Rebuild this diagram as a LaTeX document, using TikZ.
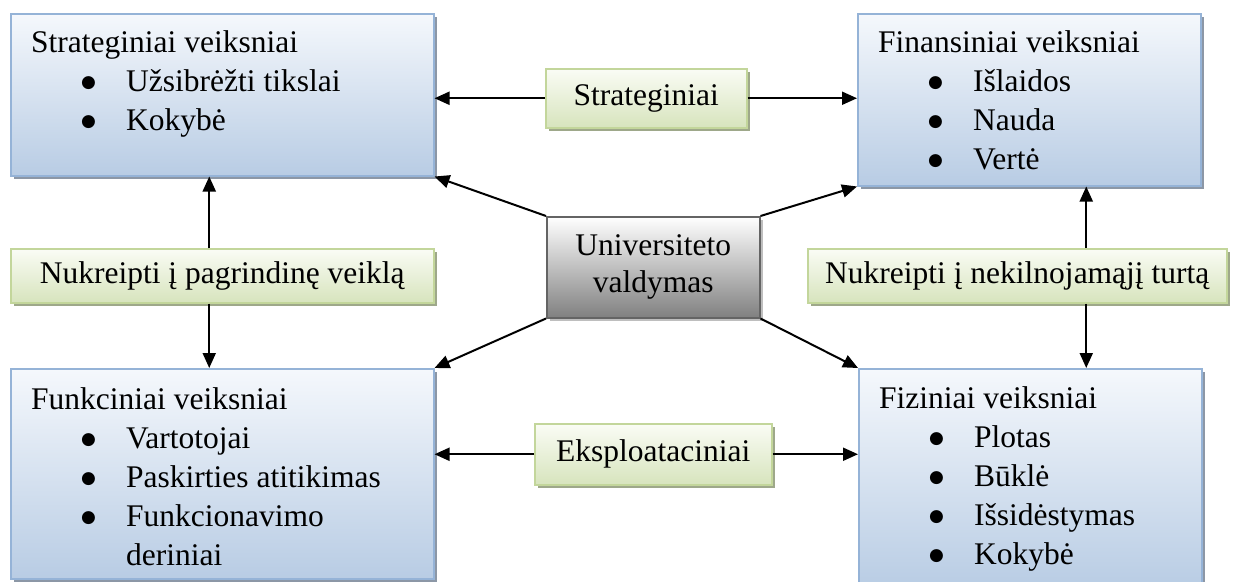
\documentclass[tikz,border=0pt]{standalone}
\usepackage{fontspec}
\setmainfont{Liberation Serif}
\newfontfamily\bulfont{DejaVu Sans}
\usetikzlibrary{positioning,shadows,arrows.meta,calc}
\definecolor{factorline}{RGB}{149,179,215}
\definecolor{factortop}{RGB}{245,248,252}
\definecolor{factorbot}{RGB}{184,204,228}
\definecolor{factorshade}{RGB}{140,151,166}
\definecolor{tagline}{RGB}{195,214,155}
\definecolor{tagtop}{RGB}{250,252,245}
\definecolor{tagbot}{RGB}{215,228,189}
\definecolor{tagshade}{RGB}{158,168,138}
\definecolor{hubline}{RGB}{100,100,100}
\definecolor{hubbot}{RGB}{128,128,128}
\definecolor{hubshade}{RGB}{190,190,190}
\tikzstyle{every node}=[font=\fontsize{31.5}{39}\selectfont,inner sep=0pt]
\tikzstyle{factor}=[draw=factorline,line width=1.5pt,top color=factortop,bottom color=factorbot,
  drop shadow={shadow xshift=3pt,shadow yshift=-3pt,fill=factorshade,opacity=1},anchor=north west]
\tikzstyle{tag}=[draw=tagline,line width=1.5pt,top color=tagtop,bottom color=tagbot,
  drop shadow={shadow xshift=3pt,shadow yshift=-3pt,fill=tagshade,opacity=1},anchor=north west]
\tikzstyle{hub}=[draw=hubline,line width=1.5pt,top color=white,bottom color=hubbot,align=center,
  font=\fontsize{31.5}{37}\selectfont,
  drop shadow={shadow xshift=3pt,shadow yshift=-3pt,fill=hubshade,opacity=1},anchor=north west]
\tikzstyle{listtext}=[anchor=north west,align=left]
\tikzstyle{link}=[line width=2pt,-{Triangle[length=15pt,width=13pt]}]
\newcommand{\bul}{\hspace*{50pt}\makebox[45pt][l]{\raisebox{3.5pt}{\fontsize{17}{39}\bulfont ●}}}

\begin{document}
\begin{tikzpicture}[x=1pt,y=1pt]
\useasboundingbox (0,0) rectangle (1233,-581);

\node[factor,minimum width=423pt,minimum height=162pt] (strat) at (10,-13) {};
\node[factor,minimum width=343pt,minimum height=172pt] (fin) at (857,-13) {};
\node[factor,minimum width=423pt,minimum height=210pt] (func) at (10,-368) {};
\node[factor,minimum width=343pt,minimum height=220pt] (phys) at (858,-368) {};

\node[listtext] (strattext) at ([shift={(21,-17)}]strat.north west)
{Strateginiai veiksniai\\ \bul Užsibrėžti tikslai\\ \bul Kokybė};
\node[listtext] (fintext) at ([shift={(21,-17)}]fin.north west)
{Finansiniai veiksniai\\ \bul Išlaidos\\ \bul Nauda\\ \bul Vertė};
\node[listtext] (functext) at ([shift={(21,-19)}]func.north west)
{Funkciniai veiksniai\\ \bul Vartotojai\\ \bul Paskirties atitikimas\\ \bul Funkcionavimo\\ \hspace*{95pt}deriniai};
\node[listtext] (phystext) at ([shift={(21,-18)}]phys.north west)
{Fiziniai veiksniai\\ \bul Plotas\\ \bul Būklė\\ \bul Išsidėstymas\\ \bul Kokybė};

\node[hub,minimum width=213pt,minimum height=101pt] (hub) at (546,-216) {Universiteto\\valdymas};

\node[tag,minimum width=201pt,minimum height=59pt] (goals) at (545,-68) {Strateginiai};
\node[tag,minimum width=237pt,minimum height=61pt] (oper) at (534,-423) {Eksploataciniai};
\node[tag,minimum width=423pt,minimum height=54pt] (core) at (10,-248) {Nukreipti į pagrindinę veiklą};
\node[tag,minimum width=419pt,minimum height=54pt] (realty) at (807,-248) {Nukreipti į nekilnojamąjį turtą};

\coordinate (lx) at ([xshift=-13pt]strat.south);
\coordinate (rx) at ([xshift=57pt]fin.south);

\draw[link] (goals.west) -- (goals.west -| strat.east);
\draw[link] (goals.east) -- (goals.east -| fin.west);
\draw[link] (oper.west) -- (oper.west -| func.east);
\draw[link] (oper.east) -- (oper.east -| phys.west);

\draw[link] (core.north -| lx) -- (lx);
\draw[link] (core.south -| lx) -- (func.north -| lx);
\draw[link] (realty.north -| rx) -- (rx);
\draw[link] (realty.south -| rx) -- (phys.north -| rx);

\draw[link] (hub.north west) -- (strat.south east);
\draw[link] (hub.north east) -- (fin.south west);
\draw[link] (hub.south west) -- (func.north east);
\draw[link] (hub.south east) -- (phys.north west);
\end{tikzpicture}
\end{document}
